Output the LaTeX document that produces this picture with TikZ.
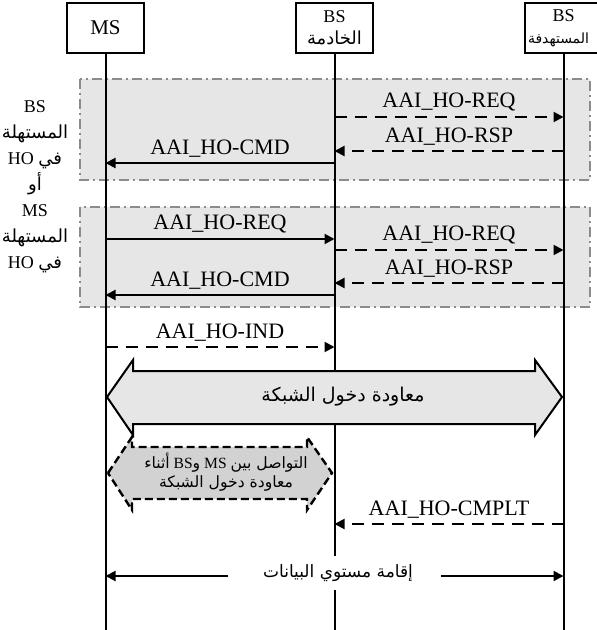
\documentclass[tikz,border=0pt]{standalone}
\usepackage{fontspec}
\setmainfont{Liberation Serif}
\newfontfamily\arabicfont[Script=Arabic]{DejaVu Sans}
\TeXXeTstate=1
\usepackage{tikz}
\usetikzlibrary{arrows.meta,positioning}
\definecolor{phasegray}{HTML}{E6E6E6}
\definecolor{phaseline}{HTML}{8C8C8C}
\definecolor{talkgray}{HTML}{D2D2D2}
\newcommand{\artxt}[1]{{\arabicfont\beginR #1\endR}}

\begin{document}
\begin{tikzpicture}[
    x=0.5pt, y=-0.5pt,
    actor/.style={draw, line width=1.2pt, minimum width=38.5pt, minimum height=25pt, inner sep=1pt, align=center, font=\fontsize{9}{10}\selectfont},
    life/.style={line width=1pt},
    msg/.style={-{Triangle[length=5pt,width=5pt]}, line width=1pt},
    dmsg/.style={msg, dash pattern=on 6pt off 4pt},
    lbl/.style={above, inner sep=2.5pt, font=\fontsize{11}{12}\selectfont},
    phase/.style={fill=phasegray, draw=phaseline, line width=1.2pt, dash pattern=on 5pt off 2pt on 1pt off 2pt},
    reentry/.style={fill=phasegray, draw, line width=1pt},
    talk/.style={fill=talkgray, draw, line width=1.2pt, dash pattern=on 4pt off 2pt}
]
\useasboundingbox (0,0) rectangle (596,630);
\draw[phase] (80,79) rectangle (590,180);
\draw[phase] (80,207) rectangle (590,307);

\node[actor, font=\fontsize{10.5}{12}\selectfont] (ms) at (105.5,28) {MS};
\node[actor] (sv) at (334.5,28) {BS\\[1pt]\artxt{الخادمة}};
\node[actor] (tg) at (563.5,28) {BS\\[1pt]{\fontsize{7}{8}\selectfont\artxt{المستهدفة}}\hspace*{5pt}};
\coordinate (ms-end) at (105.5,630);
\coordinate (sv-end) at (334.5,630);
\coordinate (tg-end) at (563.5,630);
\draw[life] (ms) -- (ms-end);
\draw[life] (sv) -- (sv-end);
\draw[life] (tg) -- (tg-end);

\node[align=center, font=\fontsize{9}{13}\selectfont] (note) at (35,187)
  {BS\\\artxt{المستهلة}\\\beginR{\arabicfont في} HO\endR\\\artxt{أو}\\MS\\\artxt{المستهلة}\\\beginR{\arabicfont في} HO\endR};

\draw[dmsg] (sv |- 0,117) -- node[lbl] {AAI\_HO-REQ} (tg |- 0,117);
\draw[dmsg] (tg |- 0,151) -- node[lbl] {AAI\_HO-RSP} (sv |- 0,151);
\draw[msg] (sv |- 0,163) -- node[lbl] {AAI\_HO-CMD} (ms |- 0,163);

\draw[msg] (ms |- 0,239) -- node[lbl] {AAI\_HO-REQ} (sv |- 0,239);
\draw[dmsg] (sv |- 0,250) -- node[lbl] {AAI\_HO-REQ} (tg |- 0,250);
\draw[dmsg] (tg |- 0,283) -- node[lbl] {AAI\_HO-RSP} (sv |- 0,283);
\draw[msg] (sv |- 0,295) -- node[lbl] {AAI\_HO-CMD} (ms |- 0,295);

\draw[dmsg] (ms |- 0,347) -- node[lbl] {AAI\_HO-IND} (sv |- 0,347);

\draw[reentry] (107,397) -- (133,360) -- (133,371) -- (535,371) -- (535,360) -- (562,397)
  -- (535,435) -- (535,424) -- (133,424) -- (133,435) -- cycle;
\node[font=\fontsize{9.5}{11}\selectfont] (reentry-txt) at (343,397) {\artxt{معاودة دخول الشبكة}};

\draw[talk] (108,473) -- (132,437) -- (132,447) -- (307,447) -- (307,437) -- (332,473)
  -- (307,510) -- (307,499) -- (132,499) -- (132,510) -- cycle;
\node[align=center, font=\fontsize{7.8}{9.5}\selectfont] (talk-txt) at (226,472)
  {\beginR{\arabicfont التواصل بين} MS {\arabicfont و}{}BS {\arabicfont أثناء}\endR\\\artxt{معاودة دخول الشبكة}};

\draw[dmsg] (tg |- 0,524) -- node[lbl] {AAI\_HO-CMPLT} (sv |- 0,524);

\node[fill=white, inner sep=4pt, font=\fontsize{8.5}{11}\selectfont] (plane) at (338,573) {\artxt{إقامة مستوي البيانات}};
\coordinate (plane-l) at (228,576);
\coordinate (plane-r) at (441,576);
\draw[msg] (plane-l) -- (ms |- plane-l);
\draw[msg] (plane-r) -- (tg |- plane-r);
\end{tikzpicture}
\end{document}
